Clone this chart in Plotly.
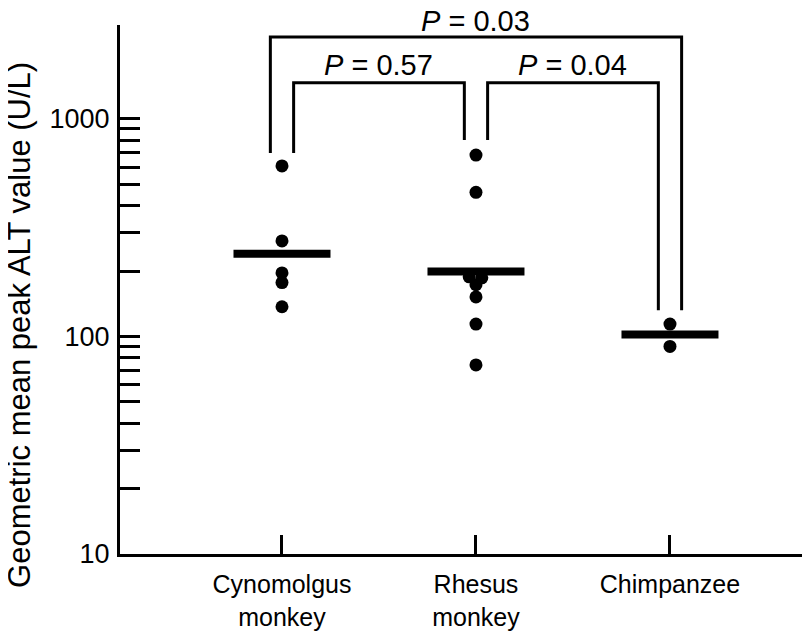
import math
import plotly.graph_objects as go

# ---- data ----
categories = ["Cynomolgus<br>monkey", "Rhesus<br>monkey", "Chimpanzee"]
cyno_values = [608, 275, 196, 177, 137]
rhesus_values = [682, 460, 188, 186, 173, 152, 114, 74]
chimp_values = [114, 90]
geo_means = [240, 199, 102]

# comparisons between groups and their labels
comp_pairs = [(0, 1), (1, 2), (0, 2)]
comp_labels = ["<i>P</i> = 0.57", "<i>P</i> = 0.04", "<i>P</i> = 0.03"]
bracket_tops = [1466, 1466, 2380]
bracket_bottoms = [698, 800, 132]   # per group: where bracket legs end

ytick_vals = [10, 20, 30, 40, 50, 60, 70, 80, 90,
              100, 200, 300, 400, 500, 600, 700, 800, 900, 1000]
ytick_text = ["10"] + [""] * 8 + ["100"] + [""] * 8 + ["1000"]
y_title = "Geometric mean peak ALT value (U/L)"

# ---- styling / layout helpers ----
FONT = "Liberation Sans, Arial, sans-serif"
xpos = [1, 2, 3]
jitter = {
    0: [0, 0, 0, 0, 0],
    1: [0, 0, -0.035, 0.03, 0, 0, 0, 0],
    2: [0, 0],
}
groups = [cyno_values, rhesus_values, chimp_values]
bar_half = 0.25
leg_off = 0.06
label_shift = [18, 18, 16]

fig = go.Figure()

# points
for gi, vals in enumerate(groups):
    fig.add_trace(go.Scatter(
        x=[xpos[gi] + j for j in jitter[gi]], y=vals, mode="markers",
        marker=dict(size=13, color="black"), showlegend=False, hoverinfo="y"))

# geometric mean bars
for gi, gm in enumerate(geo_means):
    fig.add_trace(go.Scatter(
        x=[xpos[gi] - bar_half, xpos[gi] + bar_half], y=[gm, gm], mode="lines",
        line=dict(color="black", width=8), showlegend=False, hoverinfo="skip"))

# brackets
annotations = []
for k, (a, b) in enumerate(comp_pairs):
    top = bracket_tops[k]
    if (a, b) == (0, 2):
        xa, xb = xpos[a] - leg_off, xpos[b] + leg_off
    else:
        xa, xb = xpos[a] + leg_off, xpos[b] - leg_off
    fig.add_trace(go.Scatter(
        x=[xa, xa, xb, xb],
        y=[bracket_bottoms[a], top, top, bracket_bottoms[b]],
        mode="lines", line=dict(color="black", width=3),
        showlegend=False, hoverinfo="skip", cliponaxis=False))
    annotations.append(dict(
        x=(xa + xb) / 2, y=math.log10(top), xref="x", yref="y",
        text=comp_labels[k], showarrow=False, yanchor="middle",
        yshift=label_shift[k],
        font=dict(family=FONT, size=29, color="black")))

# y-axis title as rotated annotation
annotations.append(dict(
    x=-0.146, y=0.433, xref="paper", yref="paper", text=y_title,
    textangle=-90, showarrow=False, xanchor="center", yanchor="middle",
    font=dict(family=FONT, size=31, color="black")))

fig.update_layout(
    width=802, height=626,
    margin=dict(l=112, r=5, t=17, b=80, autoexpand=False),
    paper_bgcolor="white", plot_bgcolor="white",
    font=dict(family=FONT, size=26, color="black"),
    annotations=annotations,
)

fig.update_xaxes(
    range=[0.165, 3.696], tickmode="array", tickvals=xpos, ticktext=categories,
    ticks="inside", ticklen=19, tickwidth=3, tickcolor="black",
    showline=True, linewidth=3, linecolor="black", automargin=False,
    showgrid=False, zeroline=False, ticklabelstandoff=6,
    tickfont=dict(family=FONT, size=25, color="black"))

fig.update_yaxes(
    type="log", range=[1, 3.432], tickmode="array",
    tickvals=ytick_vals, ticktext=ytick_text,
    ticks="inside", ticklen=20, tickwidth=3, tickcolor="black",
    showline=True, linewidth=3, linecolor="black", automargin=False,
    showgrid=False, zeroline=False, ticklabelstandoff=2,
    tickfont=dict(family=FONT, size=27, color="black"))

fig.write_html("out.html")
